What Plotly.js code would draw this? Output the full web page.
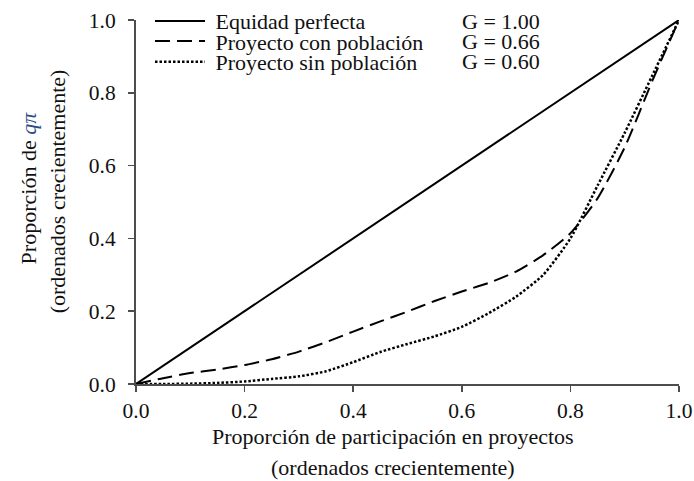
<!DOCTYPE html>
<html>
<head>
<meta charset="utf-8">
<script src="https://cdn.plot.ly/plotly-3.0.1.min.js"></script>
<style>html,body{margin:0;padding:0;background:#fff;}#chart{width:694px;height:481px;}</style>
</head>
<body>
<div id="chart"></div>
<script>
// Data
var seriesNames = ["Equidad perfecta", "Proyecto con población", "Proyecto sin población"];
var giniLabels = ["G = 1.00", "G = 0.66", "G = 0.60"];

var xEquidad = [0, 1];
var yEquidad = [0, 1];

var xShare = [0, 0.05, 0.1, 0.15, 0.2, 0.25, 0.3, 0.35, 0.4, 0.45, 0.5, 0.55, 0.6, 0.65, 0.7, 0.75, 0.8, 0.85, 0.9, 0.95, 1.0];
var yConPoblacion = [0, 0.016, 0.030, 0.040, 0.052, 0.068, 0.089, 0.115, 0.144, 0.172, 0.199, 0.228, 0.254, 0.278, 0.309, 0.354, 0.414, 0.510, 0.650, 0.830, 1.0];
var ySinPoblacion = [0, 0.000, 0.001, 0.003, 0.007, 0.014, 0.021, 0.035, 0.060, 0.088, 0.110, 0.131, 0.157, 0.195, 0.240, 0.300, 0.400, 0.545, 0.690, 0.845, 1.0];

var tickVals = [0, 0.2, 0.4, 0.6, 0.8, 1.0];
var tickText = ["0.0", "0.2", "0.4", "0.6", "0.8", "1.0"];

var FONT = "Liberation Serif";
var TXT = "#111";

var traces = [
  {x: xEquidad, y: yEquidad, name: "\u00a0" + seriesNames[0], mode: "lines", legend: "legend",
   line: {color: "#000", width: 2, dash: "solid"}},
  {x: xShare, y: yConPoblacion, name: "\u00a0" + seriesNames[1], mode: "lines", legend: "legend2",
   line: {color: "#000", width: 2, dash: "15px,7px", shape: "spline", smoothing: 0.6}},
  {x: xShare, y: ySinPoblacion, name: "\u00a0" + seriesNames[2], mode: "lines", legend: "legend3",
   line: {color: "#000", width: 2.5, dash: "2.5px,2px", shape: "spline", smoothing: 0.6}}
];

function axisBase() {
  return {
    range: [0, 1], tickvals: tickVals, ticktext: tickText,
    showgrid: false, zeroline: false, showline: true,
    linecolor: "#4d4d4d", linewidth: 2,
    ticks: "outside", ticklen: 6, tickwidth: 1.5, tickcolor: "#4d4d4d",
    tickfont: {family: FONT, size: 21.5, color: TXT},
    fixedrange: true
  };
}
var xAxis = axisBase();
var yAxis = axisBase();
yAxis.ticklabelstandoff = 8;

var rowY = [0.997, 0.942, 0.885];
var legendX = 0.0258;
function legendBox(yv) {
  return {x: legendX, y: yv, xanchor: "left", yanchor: "middle",
    bgcolor: "rgba(0,0,0,0)", borderwidth: 0, itemwidth: 50,
    font: {family: FONT, size: 22, color: TXT}};
}

var annotations = [];
for (var i = 0; i < giniLabels.length; i++) {
  annotations.push({text: giniLabels[i], xref: "paper", yref: "paper",
    x: 0.747, y: rowY[i], xanchor: "right", yanchor: "middle", showarrow: false,
    font: {family: FONT, size: 22, color: TXT}});
}
annotations.push({text: "Proporción de participación en proyectos", xref: "paper", yref: "paper",
  x: 0.473, y: -0.143, xanchor: "center", yanchor: "middle", showarrow: false,
  font: {family: FONT, size: 22, color: TXT}});
annotations.push({text: "(ordenados crecientemente)", xref: "paper", yref: "paper",
  x: 0.473, y: -0.229, xanchor: "center", yanchor: "middle", showarrow: false,
  font: {family: FONT, size: 22, color: TXT}});
annotations.push({text: "Proporción de <i><span style=\"color:#2b4c8c\">qπ</span></i>", xref: "paper", yref: "paper",
  x: -0.199, y: 0.54, xanchor: "center", yanchor: "middle", textangle: -90, showarrow: false,
  font: {family: FONT, size: 22, color: TXT}});
annotations.push({text: "(ordenados crecientemente)", xref: "paper", yref: "paper",
  x: -0.145, y: 0.53, xanchor: "center", yanchor: "middle", textangle: -90, showarrow: false,
  font: {family: FONT, size: 22, color: TXT}});

var layout = {
  width: 694, height: 481,
  margin: {l: 136, r: 15, t: 20, b: 97, pad: 0, autoexpand: false},
  paper_bgcolor: "#fff", plot_bgcolor: "#fff",
  font: {family: FONT, size: 22, color: TXT},
  showlegend: true,
  legend: legendBox(rowY[0]),
  legend2: legendBox(rowY[1]),
  legend3: legendBox(rowY[2]),
  xaxis: xAxis,
  yaxis: yAxis,
  annotations: annotations
};

Plotly.newPlot("chart", traces, layout, {displayModeBar: false, staticPlot: true});
</script>
</body>
</html>
